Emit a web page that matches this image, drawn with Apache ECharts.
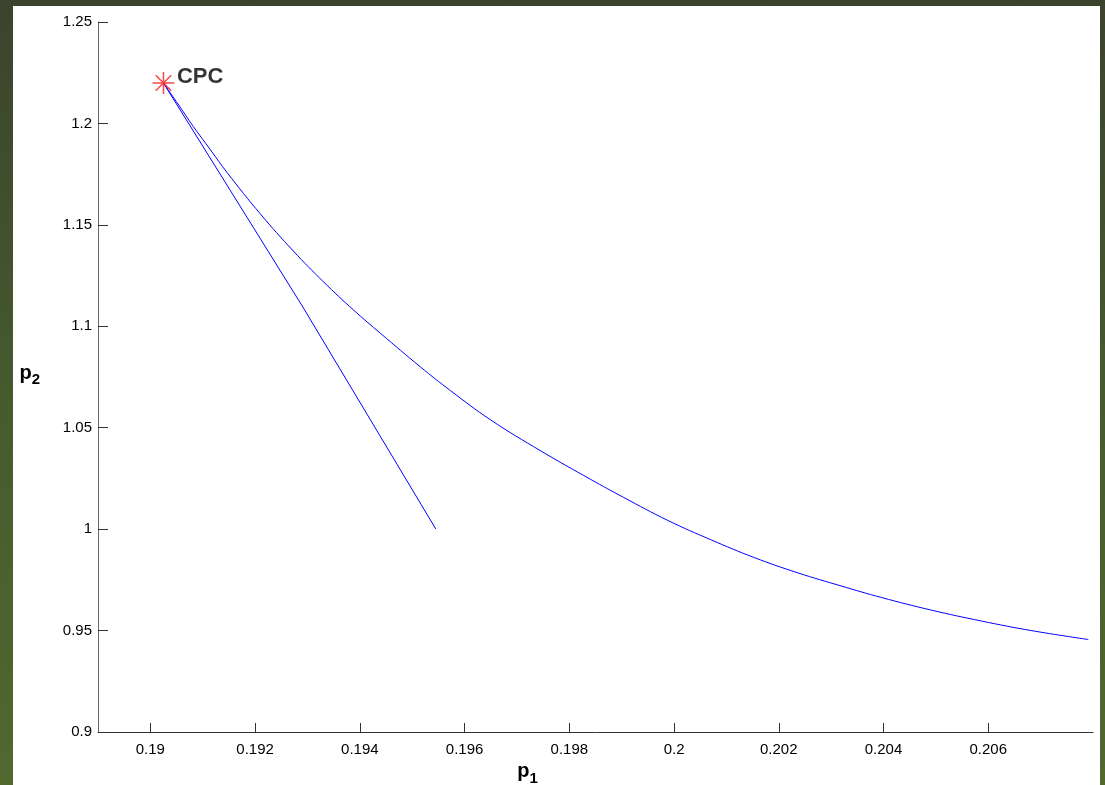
<!DOCTYPE html>
<html>
<head>
<meta charset="utf-8">
<script src="https://cdn.jsdelivr.net/npm/echarts@6/dist/echarts.min.js"></script>
<style>
  html, body { margin: 0; padding: 0; width: 1105px; height: 785px; overflow: hidden;
    background: linear-gradient(180deg, #3b432d 0%, #465a2e 50%, #51682f 100%); }
  #chart { position: absolute; left: 13px; top: 6px; width: 1087px; height: 779px; background: #fff; }
</style>
</head>
<body>
<div id="chart"></div>
<script>
// Point: the CPC marker.
const cpc = [0.19025, 1.2199];
// Straight branch from CPC down to p2 = 1.
const lineP1 = [0.19025, 0.1929, 0.19545];
const lineP2 = [1.2199, 1.1100, 1.0001];
// Curved branch from CPC out to the right edge.
const curveP1 = [0.19025, 0.19054, 0.19082, 0.19115, 0.19147, 0.19210, 0.19273, 0.19331, 0.19388,
  0.19440, 0.19516, 0.19573, 0.19650, 0.19746, 0.19841, 0.19904, 0.19988, 0.20071, 0.20153,
  0.20237, 0.20319, 0.20396, 0.20491, 0.20587, 0.20682, 0.20791];
const curveP2 = [1.2199, 1.2091, 1.1985, 1.1869, 1.1756, 1.1554, 1.1371, 1.1218, 1.1080,
  1.0964, 1.0799, 1.0683, 1.0538, 1.0385, 1.0245, 1.0156, 1.0043, 0.9947, 0.9860,
  0.9784, 0.9720, 0.9663, 0.9601, 0.9547, 0.9500, 0.9456];
// Tick values.
const xTicks = [0.19, 0.192, 0.194, 0.196, 0.198, 0.2, 0.202, 0.204, 0.206];
const yMin = 0.9, yMax = 1.25, yStep = 0.05;

const zip = (a, b) => a.map((v, i) => [v, b[i]]);
const font = 'Liberation Sans, Arial, sans-serif';
const nameRich = {
  p: { fontSize: 20, fontWeight: 'bold', fontFamily: font, color: '#000' },
  s: { fontSize: 15, fontWeight: 'bold', fontFamily: font, color: '#000', padding: [14, 0, 0, 0] }
};

const chart = echarts.init(document.getElementById('chart'));
chart.setOption({
  animation: false,
  grid: { left: 85, right: 7, top: 16, bottom: 53, outerBoundsMode: 'none', containLabel: false },
  xAxis: {
    type: 'value', min: 0.189, max: 0.208,
    splitLine: { show: false },
    axisLine: { show: true, onZero: false, lineStyle: { color: '#333', width: 1 } },
    axisTick: { show: true, inside: true, length: 9, customValues: xTicks, lineStyle: { color: '#333' } },
    axisLabel: { customValues: xTicks, color: '#000', fontSize: 15, fontFamily: font, margin: 10,
      formatter: (v) => String(+v.toFixed(3)) },
    name: '{p|p}{s|1}', nameLocation: 'middle', nameGap: 25,
    nameTextStyle: { rich: nameRich, padding: [0, 136, 0, 0] }
  },
  yAxis: {
    type: 'value', min: yMin, max: yMax, interval: yStep,
    splitLine: { show: false },
    axisLine: { show: true, onZero: false, lineStyle: { color: '#666', width: 1 } },
    axisTick: { show: true, inside: true, length: 10, lineStyle: { color: '#333' } },
    axisLabel: { color: '#000', fontSize: 15, fontFamily: font, margin: 6,
      formatter: (v) => String(+v.toFixed(2)) },
    name: '{p|p}{s|2}', nameLocation: 'middle', nameGap: 58, nameRotate: 0,
    nameTextStyle: { rich: nameRich, padding: [0, 0, 8, 0] }
  },
  series: [
    { type: 'line', data: zip(lineP1, lineP2), showSymbol: false, silent: true,
      lineStyle: { color: '#0000ff', width: 1 } },
    { type: 'line', data: zip(curveP1, curveP2), showSymbol: false, smooth: 0.4,
      silent: true, lineStyle: { color: '#0000ff', width: 1 } },
    { type: 'scatter', data: [cpc], z: 10,
      symbol: 'path://M0,-10L0,10M-10,0L10,0M-7.07,-7.07L7.07,7.07M-7.07,7.07L7.07,-7.07',
      symbolSize: 22,
      itemStyle: { color: 'none', borderColor: '#ff1a1a', borderWidth: 1.5 },
      label: { show: true, position: 'right', distance: 0, offset: [0, -6], formatter: 'CPC',
        fontSize: 22, fontWeight: 'bold', fontFamily: font, color: '#000' } }
  ]
});
</script>
</body>
</html>
